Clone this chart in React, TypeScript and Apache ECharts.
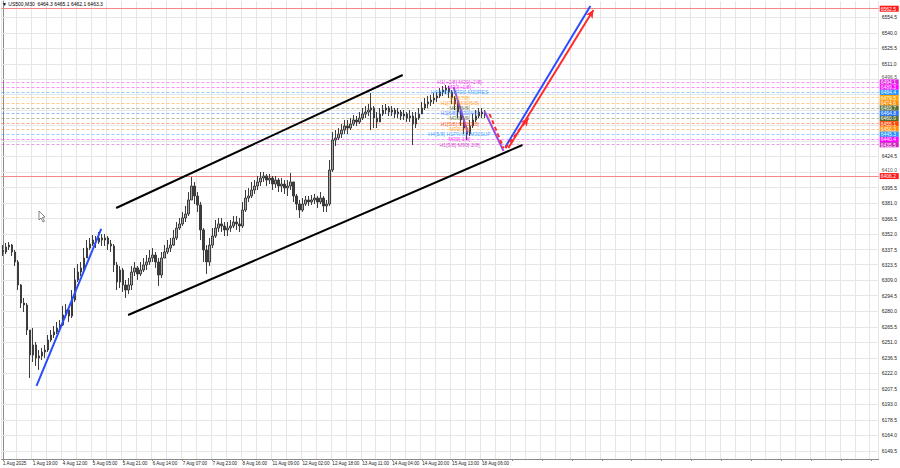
import React, { useEffect, useRef } from "react";
import * as echarts from "echarts";

// ---- chart data -----------------------------------------------------------
const HEADER = "\u25BC US500,M30  6464.3 6465.1 6462.1 6463.3";

// bottom time labels, one every LABEL_EVERY slots
const TIME_LABELS = [
  "1 Aug 2025", "1 Aug 19:00", "4 Aug 12:00", "5 Aug 05:00", "5 Aug 21:00",
  "6 Aug 14:00", "7 Aug 07:00", "7 Aug 23:00", "8 Aug 16:00", "11 Aug 09:00",
  "12 Aug 02:00", "12 Aug 18:00", "13 Aug 11:00", "14 Aug 04:00", "14 Aug 20:00",
  "15 Aug 13:00", "18 Aug 06:00",
];
const SLOT_COUNT = 293;
const LABEL_EVERY = 10;

// price scale
const PRICE_MIN = 6142.0;
const PRICE_MAX = 6569.7;
const PRICE_LABELS = [
  "6149.5", "6164.0", "6178.5", "6193.0", "6207.5", "6222.0", "6236.5", "6251.0",
  "6265.5", "6280.0", "6294.5", "6309.0", "6323.5", "6337.5", "6352.0", "6366.5",
  "6381.0", "6395.5", "6424.5", "6511.0", "6525.5", "6540.0", "6554.5",
];
// labels that sit next to a price tag and are nudged up a little
const PRICE_LABELS_NUDGED = ["6410.0", "6496.5"];
const PRICE_GRID_EXTRA = ["6439.0", "6453.5", "6468.0", "6482.5"];

// candles: [open, close, low, high]
const CANDLES: number[][] = [
  [6337.2, 6335.3, 6331.6, 6341.8], [6335.3, 6340.0, 6333.4, 6343.7], [6340.0, 6341.8, 6337.2, 6344.6],
  [6341.8, 6335.3, 6331.6, 6342.8], [6335.3, 6326.0, 6322.2, 6337.2], [6326.0, 6304.5, 6299.8, 6327.9],
  [6304.5, 6287.7, 6283.0, 6305.4], [6287.7, 6285.8, 6279.3, 6292.4], [6285.8, 6262.5, 6257.8, 6287.7],
  [6262.5, 6239.1, 6217.7, 6262.5], [6239.1, 6248.5, 6232.6, 6264.3], [6248.5, 6236.3, 6228.9, 6251.3],
  [6236.3, 6238.2, 6225.1, 6243.8], [6238.2, 6241.9, 6234.5, 6245.7], [6241.9, 6243.8, 6236.3, 6248.5],
  [6243.8, 6253.1, 6241.9, 6257.8], [6253.1, 6257.8, 6251.3, 6262.5], [6257.8, 6260.6, 6255.0, 6266.2],
  [6260.6, 6264.3, 6258.7, 6270.0], [6264.3, 6267.2, 6261.6, 6271.8], [6267.2, 6276.5, 6266.2, 6284.9],
  [6276.5, 6281.2, 6273.7, 6286.8], [6281.2, 6275.5, 6270.0, 6283.0], [6275.5, 6290.5, 6273.7, 6299.8],
  [6290.5, 6309.2, 6288.6, 6320.4], [6309.2, 6316.6, 6307.3, 6324.1], [6316.6, 6320.4, 6312.9, 6326.0],
  [6320.4, 6329.7, 6318.5, 6339.0], [6329.7, 6339.0, 6329.7, 6346.5], [6339.0, 6342.8, 6337.2, 6348.4],
  [6342.8, 6346.5, 6340.9, 6351.2], [6346.5, 6344.6, 6339.0, 6350.2], [6344.6, 6348.4, 6342.8, 6354.0],
  [6348.4, 6346.5, 6340.9, 6352.1], [6346.5, 6348.4, 6340.9, 6352.1], [6348.4, 6342.8, 6337.2, 6350.2],
  [6342.8, 6340.9, 6335.3, 6346.5], [6340.9, 6323.2, 6316.6, 6342.8], [6323.2, 6307.3, 6299.8, 6326.0],
  [6307.3, 6318.5, 6301.7, 6322.2], [6318.5, 6304.5, 6298.0, 6320.4], [6304.5, 6299.8, 6292.4, 6309.2],
  [6299.8, 6304.5, 6296.1, 6311.0], [6304.5, 6316.6, 6299.8, 6322.2], [6316.6, 6320.4, 6312.9, 6326.0],
  [6320.4, 6314.8, 6309.2, 6322.2], [6314.8, 6318.5, 6312.9, 6326.0], [6318.5, 6323.2, 6316.6, 6329.7],
  [6323.2, 6326.0, 6318.5, 6332.5], [6326.0, 6329.7, 6323.2, 6337.2], [6329.7, 6332.5, 6326.0, 6339.0],
  [6332.5, 6326.0, 6320.4, 6335.3], [6326.0, 6313.8, 6303.6, 6329.7], [6313.8, 6329.7, 6311.0, 6335.3],
  [6329.7, 6335.3, 6329.7, 6341.8], [6335.3, 6339.0, 6333.4, 6346.5], [6339.0, 6341.8, 6335.3, 6348.4],
  [6341.8, 6348.4, 6340.9, 6355.9], [6348.4, 6357.7, 6346.5, 6363.3], [6357.7, 6361.5, 6355.9, 6367.1],
  [6361.5, 6367.1, 6359.6, 6372.7], [6367.1, 6370.8, 6363.3, 6378.3], [6370.8, 6383.9, 6368.9, 6391.3],
  [6383.9, 6396.9, 6383.9, 6405.3], [6396.9, 6387.6, 6380.1, 6400.7], [6387.6, 6379.2, 6372.7, 6391.3],
  [6379.2, 6355.9, 6346.5, 6382.0], [6355.9, 6337.2, 6326.0, 6357.7], [6337.2, 6326.0, 6314.8, 6341.8],
  [6326.0, 6341.8, 6322.2, 6348.4], [6341.8, 6350.2, 6339.0, 6357.7], [6350.2, 6357.7, 6348.4, 6365.2],
  [6357.7, 6361.5, 6354.0, 6367.1], [6361.5, 6359.6, 6354.0, 6367.1], [6359.6, 6355.9, 6350.2, 6363.3],
  [6355.9, 6357.7, 6350.2, 6363.3], [6357.7, 6359.6, 6354.0, 6365.2], [6359.6, 6363.3, 6357.7, 6368.9],
  [6363.3, 6361.5, 6355.9, 6368.9], [6361.5, 6359.6, 6354.0, 6367.1], [6359.6, 6374.5, 6357.7, 6382.0],
  [6374.5, 6385.7, 6372.7, 6393.2], [6385.7, 6387.6, 6382.0, 6395.1], [6387.6, 6393.2, 6385.7, 6400.7],
  [6393.2, 6396.9, 6389.5, 6402.5], [6396.9, 6400.7, 6393.2, 6406.3], [6400.7, 6404.4, 6396.9, 6410.0],
  [6404.4, 6406.3, 6400.7, 6410.0], [6406.3, 6402.5, 6396.9, 6408.1], [6402.5, 6404.4, 6398.8, 6408.1],
  [6404.4, 6398.8, 6393.2, 6406.3], [6398.8, 6402.5, 6395.1, 6406.3], [6402.5, 6396.9, 6391.3, 6404.4],
  [6396.9, 6398.8, 6391.3, 6404.4], [6398.8, 6395.1, 6389.5, 6402.5], [6395.1, 6396.9, 6387.6, 6402.5],
  [6396.9, 6400.7, 6393.2, 6409.1], [6400.7, 6387.6, 6382.0, 6400.7], [6387.6, 6380.1, 6374.5, 6389.5],
  [6380.1, 6374.5, 6367.1, 6383.9], [6374.5, 6380.1, 6372.7, 6385.7], [6380.1, 6383.9, 6378.3, 6387.6],
  [6383.9, 6382.0, 6378.3, 6387.6], [6382.0, 6383.9, 6379.2, 6388.5], [6383.9, 6385.7, 6380.1, 6389.5],
  [6385.7, 6382.0, 6376.4, 6387.6], [6382.0, 6385.7, 6380.1, 6391.3], [6385.7, 6378.3, 6372.7, 6387.6],
  [6378.3, 6380.1, 6372.7, 6383.9], [6380.1, 6411.9, 6378.3, 6421.2], [6411.9, 6439.9, 6410.0, 6447.4],
  [6439.9, 6441.8, 6434.3, 6449.2], [6441.8, 6445.5, 6439.9, 6451.1], [6445.5, 6449.2, 6441.8, 6454.8],
  [6449.2, 6453.0, 6445.5, 6458.6], [6453.0, 6451.1, 6445.5, 6458.6], [6451.1, 6454.8, 6449.2, 6460.4],
  [6454.8, 6458.6, 6453.0, 6463.2], [6458.6, 6456.7, 6453.0, 6462.3], [6456.7, 6460.4, 6454.8, 6466.0],
  [6460.4, 6464.2, 6458.6, 6469.8], [6464.2, 6466.0, 6460.4, 6471.6], [6466.0, 6467.9, 6462.3, 6473.5],
  [6467.9, 6469.8, 6449.2, 6483.8], [6469.8, 6460.4, 6451.1, 6471.6], [6460.4, 6456.7, 6451.1, 6466.0],
  [6456.7, 6464.2, 6456.7, 6469.8], [6464.2, 6467.9, 6462.3, 6472.6], [6467.9, 6469.8, 6464.2, 6473.5],
  [6469.8, 6466.0, 6462.3, 6471.6], [6466.0, 6467.9, 6462.3, 6471.6], [6467.9, 6464.2, 6460.4, 6469.8],
  [6464.2, 6466.0, 6460.4, 6469.8], [6466.0, 6462.3, 6458.6, 6467.9], [6462.3, 6464.2, 6458.6, 6467.9],
  [6464.2, 6460.4, 6456.7, 6466.0], [6460.4, 6462.3, 6456.7, 6467.9], [6462.3, 6454.8, 6435.2, 6466.0],
  [6454.8, 6460.4, 6451.1, 6466.0], [6460.4, 6464.2, 6458.6, 6469.8], [6464.2, 6469.8, 6464.2, 6475.4],
  [6469.8, 6473.5, 6467.9, 6479.1], [6473.5, 6475.4, 6469.8, 6481.0], [6475.4, 6477.2, 6471.6, 6481.9],
  [6477.2, 6479.1, 6473.5, 6483.8], [6479.1, 6481.0, 6475.4, 6484.7], [6481.0, 6484.7, 6479.1, 6488.4],
  [6484.7, 6486.6, 6481.0, 6490.3], [6486.6, 6488.4, 6482.8, 6491.2], [6488.4, 6484.7, 6479.1, 6490.3],
  [6484.7, 6479.1, 6473.5, 6486.6], [6479.1, 6473.5, 6467.9, 6481.0], [6473.5, 6466.0, 6460.4, 6475.4],
  [6466.0, 6458.6, 6453.0, 6467.9], [6458.6, 6451.1, 6445.5, 6460.4], [6451.1, 6445.5, 6439.9, 6453.0],
  [6445.5, 6453.0, 6443.6, 6458.6], [6453.0, 6458.6, 6451.1, 6464.2], [6458.6, 6462.3, 6456.7, 6467.9],
  [6462.3, 6466.0, 6460.4, 6469.8], [6466.0, 6464.2, 6460.4, 6469.8], [6464.2, 6463.3, 6460.4, 6467.9],
];

// Murrey-style levels
const LEVEL_PRICES = [6494.1, 6489.3, 6484.4, 6479.5, 6474.6, 6469.7, 6464.8, 6460.0, 6455.1, 6450.3, 6445.3, 6440.4, 6435.5];
const LEVEL_TEXTS = [
  "H1[+1/8] M30[+2/8]", "M30[+1/8]", "H4[6/8] H1RES M30RES", "M30[7/8]", "H1[7/8] M30[6/8]",
  "M30[5/8]", "H1[6/8] M30[4/8]", "M30[3/8]", "H1[5/8] M30[2/8]", "M30[1/8]",
  "H4[5/8] H1PIVOT M30SUP", "M30[-1/8]", "H1[3/8] M30[-2/8]",
];
const LEVEL_COLORS = [
  "#dd22dd", "#ff00ff", "#1e90ff", "#ffa500", "#ff8c00", "#556b2f", "#1e6fff",
  "#556b2f", "#ff4500", "#ff8c00", "#1e90ff", "#ff00ff", "#cc22bb",
];
const LEVEL_TEXT_SLOT = 152.5;

// session high / low lines
const HILO_PRICES = [6562.5, 6406.2];

// hand-drawn trend lines, points as [slot, price]
const CHANNEL_UPPER = [[37.8, 6376.4], [133.5, 6500.6]];
const CHANNEL_LOWER = [[41.8, 6276.5], [173.5, 6435.2]];
const BLUE_LEFT = [[11.2, 6210.2], [32.8, 6356.8]];
const PURPLE_A = [[150.5, 6489.4], [155.2, 6447.4]];
const PURPLE_B = [[160.8, 6467.0], [167.2, 6429.6]];
const BLUE_TARGET = [[167.8, 6433.4], [196.2, 6565.0]];
const RED_TARGET = [[168.8, 6432.4], [197.2, 6561.3]];
const RED_DASH_DOWN = [[162.5, 6464.2], [167.2, 6432.4]];
const RED_DASH_UP = [[167.8, 6432.4], [175.5, 6460.4]];

const FONT = "Liberation Sans";

function fade(hex: string, a: number) {
  const n = parseInt(hex.slice(1), 16);
  return `rgba(${(n >> 16) & 255},${(n >> 8) & 255},${n & 255},${a})`;
}

function segment(points: number[][], color: string, width: number, dashed = false) {
  return {
    type: "line",
    xAxisIndex: 1,
    yAxisIndex: 0,
    data: points,
    symbol: "none",
    silent: true,
    z: 6,
    lineStyle: { color, width, type: dashed ? [4, 3] : "solid" },
  };
}

function arrow(points: number[][], color: string, dashed: boolean) {
  return {
    type: "line",
    xAxisIndex: 1,
    yAxisIndex: 0,
    data: [],
    silent: true,
    z: 7,
    markLine: {
      silent: true,
      z: 7,
      symbol: ["none", "arrow"],
      symbolSize: [6, 8],
      label: { show: false },
      lineStyle: { color, width: 2, type: dashed ? [4, 3] : "solid" },
      data: [[{ coord: points[0] }, { coord: points[1] }]],
    },
  };
}

export default function App() {
  const ref = useRef<HTMLDivElement>(null);

  useEffect(() => {
    if (!ref.current) return;
    const chart = echarts.init(ref.current, undefined, { renderer: "svg" });

    const categories = Array.from({ length: SLOT_COUNT }, (_, i) =>
      i % LABEL_EVERY === 0 ? TIME_LABELS[i / LABEL_EVERY] ?? "" : ""
    );
    const labelValues = PRICE_LABELS.map(Number);
    const gridValues = [...PRICE_LABELS, ...PRICE_LABELS_NUDGED, ...PRICE_GRID_EXTRA].map(Number);

    const option: any = {
      animation: false,
      backgroundColor: "#ffffff",
      textStyle: { fontFamily: FONT },
      title: {
        text: HEADER,
        left: 2,
        top: 1,
        padding: 0,
        textStyle: { fontSize: 5, fontWeight: "normal", color: "#000", fontFamily: FONT },
      },
      grid: { left: 0, right: 21, top: 1, bottom: 9, containLabel: false },
      xAxis: [
        {
          type: "category",
          data: categories,
          boundaryGap: true,
          axisLine: { show: true, lineStyle: { color: "#8a8a8a", width: 1 } },
          axisTick: { show: true, interval: LABEL_EVERY - 1, alignWithLabel: true, length: 2, lineStyle: { color: "#8a8a8a" } },
          axisLabel: {
            interval: LABEL_EVERY - 1,
            align: "left",
            fontSize: 4.6,
            color: "#222",
            margin: 2,
            hideOverlap: false,
            fontFamily: FONT,
          },
          splitLine: { show: true, interval: 4, lineStyle: { color: "#e6e6e6", width: 1 } },
        },
        { type: "value", min: -0.5, max: SLOT_COUNT - 0.5, show: false },
      ],
      yAxis: [
        {
          type: "value",
          position: "right",
          min: PRICE_MIN,
          max: PRICE_MAX,
          axisLine: { show: true, lineStyle: { color: "#8a8a8a", width: 1 } },
          axisTick: { show: false },
          splitLine: { show: false },
          axisLabel: {
            customValues: labelValues,
            fontSize: 5,
            color: "#222",
            margin: 3,
            fontFamily: FONT,
            formatter: (v: number) => {
              const hit = PRICE_LABELS.find((s) => Math.abs(Number(s) - v) < 0.01);
              return hit ?? v.toFixed(1);
            },
          },
        },
      ],
      graphic: [
        // mouse pointer left on the chart
        {
          type: "polygon",
          z: 20,
          shape: { points: [[39, 211], [39, 220], [41, 218], [43, 222], [44.5, 221.3], [42.5, 217.5], [45, 217]] },
          style: { fill: "#ffffff", stroke: "#555", lineWidth: 0.7 },
        },
      ],
      series: [
        // horizontal grid
        {
          type: "line",
          xAxisIndex: 1,
          data: [],
          silent: true,
          z: 1,
          markLine: {
            silent: true,
            z: 1,
            symbol: "none",
            label: { show: false },
            lineStyle: { color: "#e6e6e6", width: 1, type: "solid" },
            data: gridValues.map((v) => ({ yAxis: v })),
          },
        },
        // price labels beside tags, nudged upward
        {
          type: "scatter",
          xAxisIndex: 1,
          yAxisIndex: 0,
          symbolSize: 0,
          silent: true,
          z: 3,
          clip: false,
          data: PRICE_LABELS_NUDGED.map((s) => ({
            value: [SLOT_COUNT - 0.5, Number(s)],
            label: {
              show: true,
              position: "right",
              distance: 3,
              offset: [0, -2],
              formatter: s,
              fontSize: 5,
              color: "#222",
              fontFamily: FONT,
            },
          })),
        },
        // level lines with right-side price tags
        {
          type: "line",
          xAxisIndex: 1,
          data: [],
          silent: true,
          z: 2,
          markLine: {
            silent: true,
            z: 2,
            symbol: "none",
            data: LEVEL_PRICES.map((p, i) => ({
              yAxis: p,
              lineStyle: { color: fade(LEVEL_COLORS[i], 0.45), width: 1, type: [3, 2] },
              label: {
                show: true,
                position: "end",
                distance: 1,
                formatter: p.toFixed(1),
                color: "#ffffff",
                backgroundColor: LEVEL_COLORS[i],
                fontSize: 5,
                lineHeight: 5.2,
                height: 5.2,
                width: 17,
                padding: [0, 1],
                fontFamily: FONT,
              },
            })),
          },
        },
        // high / low lines
        {
          type: "line",
          xAxisIndex: 1,
          data: [],
          silent: true,
          z: 2,
          markLine: {
            silent: true,
            z: 2,
            symbol: "none",
            data: HILO_PRICES.map((p) => ({
              yAxis: p,
              lineStyle: { color: "#f08a8a", width: 1, type: "solid" },
              label: {
                show: true,
                position: "end",
                distance: 1,
                formatter: p.toFixed(1),
                color: "#ffffff",
                backgroundColor: "#ff1a1a",
                fontSize: 5,
                lineHeight: 6,
                height: 6,
                width: 17,
                padding: [0, 1],
                fontFamily: FONT,
              },
            })),
          },
        },
        {
          type: "candlestick",
          xAxisIndex: 0,
          yAxisIndex: 0,
          data: CANDLES,
          barWidth: 2,
          z: 4,
          silent: true,
          itemStyle: {
            color: "#a8a8a8",
            color0: "#3c3c3c",
            borderColor: "#3c3c3c",
            borderColor0: "#3c3c3c",
            borderWidth: 1,
          },
        },
        segment(CHANNEL_UPPER, "#000000", 2),
        segment(CHANNEL_LOWER, "#000000", 2),
        segment(BLUE_LEFT, "#2a4cff", 2),
        segment(PURPLE_A, "#9b4ddb", 2),
        segment(PURPLE_B, "#9b4ddb", 2),
        segment(BLUE_TARGET, "#2a4cff", 2),
        arrow(RED_TARGET, "#ff2a2a", false),
        segment(RED_DASH_DOWN, "#ff2a2a", 2, true),
        arrow(RED_DASH_UP, "#ff2a2a", true),
        // level captions
        {
          type: "scatter",
          xAxisIndex: 1,
          yAxisIndex: 0,
          symbolSize: 0,
          silent: true,
          z: 8,
          data: LEVEL_PRICES.map((p, i) => ({
            value: [LEVEL_TEXT_SLOT, p],
            label: {
              show: true,
              position: "inside",
              formatter: LEVEL_TEXTS[i],
              color: LEVEL_COLORS[i],
              fontSize: 5.2,
              fontFamily: FONT,
            },
          })),
        },
      ],
    };

    chart.setOption(option);
    return () => chart.dispose();
  }, []);

  return (
    <div
      ref={ref}
      style={{ position: "absolute", left: 0, top: 0, width: 900, height: 468, background: "#fff" }}
    />
  );
}
